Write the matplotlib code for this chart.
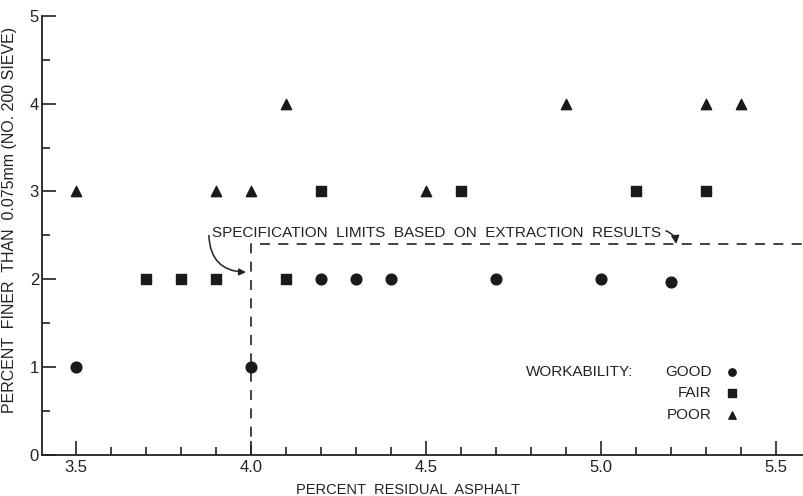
import matplotlib.pyplot as plt
from matplotlib.ticker import MultipleLocator

plt.rcParams['font.family'] = ['Liberation Sans', 'DejaVu Sans']

# workability data: percent residual asphalt vs percent finer than No. 200
good_x = [3.5, 4.0, 4.2, 4.3, 4.4, 4.7, 5.0, 5.2]
good_y = [1, 1, 2, 2, 2, 2, 2, 1.97]
fair_x = [3.7, 3.8, 3.9, 4.1, 4.2, 4.6, 5.1, 5.3]
fair_y = [2, 2, 2, 2, 3, 3, 3, 3]
poor_x = [3.5, 3.9, 4.0, 4.1, 4.5, 4.9, 5.3, 5.4]
poor_y = [3, 3, 3, 4, 3, 4, 4, 4]

# specification limits
spec_x = [4.0, 4.0, 5.6]
spec_y = [0, 2.4, 2.4]

fig = plt.figure(figsize=(8.04, 4.96), dpi=100)
ax = fig.add_axes([0.052, 0.083, 0.948, 0.885])

ax.scatter(good_x, good_y, marker='o', s=60, color='#1a1a1a', zorder=3)
ax.scatter(fair_x, fair_y, marker='s', s=50, color='#1a1a1a', zorder=3)
ax.scatter(poor_x, poor_y, marker='^', s=55, color='#1a1a1a', zorder=3)

ax.plot(spec_x, spec_y, color='#222222', linestyle=(0, (6, 5)), linewidth=1.2)

ax.set_xlim(3.403, 5.58)
ax.set_ylim(0, 5)

for s in ['top', 'right']:
    ax.spines[s].set_visible(False)
for s in ['left', 'bottom']:
    ax.spines[s].set_linewidth(1.3)
    ax.spines[s].set_color('#222222')

ax.xaxis.set_major_locator(MultipleLocator(0.5))
ax.xaxis.set_minor_locator(MultipleLocator(0.1))
ax.yaxis.set_major_locator(MultipleLocator(1))
ax.yaxis.set_minor_locator(MultipleLocator(0.5))
ax.set_xticks([3.5, 4.0, 4.5, 5.0, 5.5])
ax.set_xticklabels(['3.5', '4.0', '4.5', '5.0', '5.5'])
ax.set_yticks([0, 1, 2, 3, 4, 5])
ax.set_yticklabels(['0', '1', '2', '3', '4', '5'])
ax.tick_params(axis='both', which='major', direction='in', length=10, width=1.2,
               color='#222222', labelsize=12, labelcolor='#222222')
ax.tick_params(axis='both', which='minor', direction='in', length=6, width=1.2,
               color='#222222')
ax.tick_params(axis='x', which='major', pad=4)
ax.tick_params(axis='y', which='major', pad=2)

ax.set_xlabel('PERCENT  RESIDUAL  ASPHALT', fontsize=10.5, color='#222222')
ax.xaxis.set_label_coords(0.48, -0.065)
ax.set_ylabel('PERCENT  FINER  THAN  0.075mm (NO. 200 SIEVE)', fontsize=11.5,
              color='#222222')
ax.yaxis.set_label_coords(-0.032, 0.535)

ax.text(3.89, 2.53, 'SPECIFICATION  LIMITS  BASED  ON  EXTRACTION  RESULTS',
        fontsize=11, color='#222222', va='center', ha='left')
ax.annotate('', xy=(3.994, 2.08), xytext=(3.88, 2.53),
            arrowprops=dict(arrowstyle='-|>', color='#222222', lw=1.1,
                            connectionstyle='arc3,rad=0.5'))
ax.annotate('', xy=(5.215, 2.37), xytext=(5.178, 2.56),
            arrowprops=dict(arrowstyle='-|>', color='#222222', lw=1.1,
                            mutation_scale=12,
                            connectionstyle='arc3,rad=-0.4'))

# legend drawn as text like the original
ax.text(4.786, 0.94, 'WORKABILITY:', fontsize=11, color='#222222', va='center')
ax.text(5.317, 0.94, 'GOOD', fontsize=11, color='#222222', va='center', ha='right')
ax.text(5.317, 0.70, 'FAIR', fontsize=11, color='#222222', va='center', ha='right')
ax.text(5.317, 0.45, 'POOR', fontsize=11, color='#222222', va='center', ha='right')
ax.scatter([5.374], [0.94], marker='o', s=28, color='#1a1a1a')
ax.scatter([5.374], [0.70], marker='s', s=28, color='#1a1a1a')
ax.scatter([5.374], [0.45], marker='^', s=28, color='#1a1a1a')

plt.savefig('out.png', dpi=100)
